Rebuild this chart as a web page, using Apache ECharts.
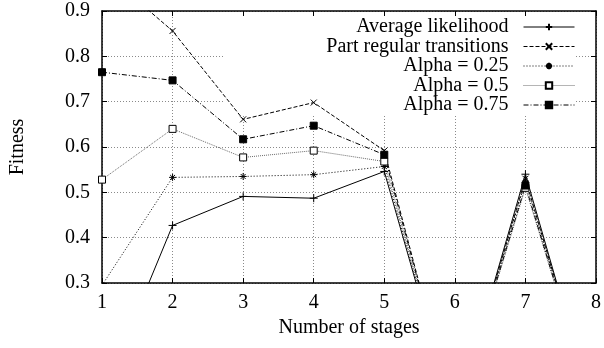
<!DOCTYPE html>
<html>
<head>
<meta charset="utf-8">
<script src="https://cdn.jsdelivr.net/npm/echarts@6/dist/echarts.min.js"></script>
<style>
  html, body { margin: 0; padding: 0; background: #fff; }
  #chart { width: 604px; height: 348px; }
</style>
</head>
<body>
<div id="chart"></div>
<script>
// Number of stages (x) and fitness values per method
const stages = [1, 2, 3, 4, 5, 6, 7, 8];
const xTicks = [1, 2, 3, 4, 5, 6, 7, 8];
const yTicks = [0.3, 0.4, 0.5, 0.6, 0.7, 0.8, 0.9];

const averageLikelihood   = [0.05, 0.427, 0.491, 0.487, 0.546, 0, 0.540, 0];
const partRegular         = [0.99, 0.856, 0.661, 0.698, 0.592, 0, 0.530, 0];
const alpha025            = [0.295, 0.533, 0.535, 0.539, 0.557, 0, 0.525, 0];
const alpha05             = [0.528, 0.640, 0.577, 0.592, 0.568, 0, 0.510, 0];
const alpha075            = [0.765, 0.747, 0.617, 0.647, 0.583, 0, 0.515, 0];

const seriesNames = [
  'Average likelihood',
  'Part regular transitions',
  'Alpha = 0.25',
  'Alpha = 0.5',
  'Alpha = 0.75'
];

const FONT = '"Liberation Serif", "DejaVu Serif", serif';

// gnuplot-like point glyphs
const PLUS = 'path://M0,5L10,5M5,0L5,10';
const CROSS = 'path://M0,0L10,10M10,0L0,10';
const STAR = 'path://M0,5L10,5M5,0L5,10M1.5,1.5L8.5,8.5M8.5,1.5L1.5,8.5';

function pairs(vals) {
  return stages.map((s, i) => [s, vals[i]]);
}

function lineSeries(name, vals, dash, color, symbol, symbolSize, fill) {
  return {
    name: name,
    type: 'line',
    data: pairs(vals),
    clip: true,
    symbol: symbol,
    symbolSize: symbolSize,
    showAllSymbol: true,
    lineStyle: { color: color, width: 1, type: dash },
    itemStyle: { color: fill, borderColor: '#000', borderWidth: 1 },
    emphasis: { disabled: true },
    animation: false
  };
}

const gridLine = { show: true, lineStyle: { color: '#8a8a8a', width: 1, type: [1, 2] } };
const frame = { show: true, onZero: false, lineStyle: { color: '#000', width: 1.5 } };
const tick = { show: true, inside: true, length: 5, lineStyle: { color: '#000', width: 1 } };

const option = {
  animation: false,
  backgroundColor: '#fff',
  grid: { left: 96, right: 7, top: 11, bottom: 65 },
  xAxis: [
    {
      type: 'value', min: 1, max: 8, interval: 1, position: 'bottom',
      name: 'Number of stages', nameLocation: 'middle', nameGap: 27,
      nameTextStyle: { fontFamily: FONT, fontSize: 20, color: '#000' },
      axisLine: frame, axisTick: tick,
      splitLine: gridLine,
      axisLabel: {
        fontFamily: FONT, fontSize: 20, color: '#000', margin: 10,
        formatter: v => xTicks.includes(v) ? String(v) : ''
      }
    },
    {
      type: 'value', min: 1, max: 8, interval: 1, position: 'top',
      axisLine: frame, axisTick: tick, splitLine: { show: false },
      axisLabel: { show: false }
    }
  ],
  yAxis: [
    {
      type: 'value', min: 0.3, max: 0.9, interval: 0.1, position: 'left',
      name: 'Fitness', nameLocation: 'middle', nameGap: 74,
      nameTextStyle: { fontFamily: FONT, fontSize: 20, color: '#000' },
      axisLine: frame, axisTick: tick,
      splitLine: gridLine,
      axisLabel: {
        fontFamily: FONT, fontSize: 20, color: '#000', margin: 12,
        formatter: v => {
          const t = yTicks.find(k => Math.abs(k - v) < 1e-9);
          return t === undefined ? '' : t.toFixed(1);
        }
      }
    },
    {
      type: 'value', min: 0.3, max: 0.9, interval: 0.1, position: 'right',
      axisLine: frame, axisTick: tick, splitLine: { show: false },
      axisLabel: { show: false }
    }
  ],
  // opaque key box hiding the grid behind the legend
  graphic: [{
    type: 'rect', z: 1, silent: true,
    shape: { x: 224, y: 17, width: 351, height: 98 },
    style: { fill: '#fff' }
  }],
  legend: {
    orient: 'vertical',
    align: 'right',
    right: 29,
    top: 17,
    padding: 0,
    itemWidth: 51,
    itemHeight: 8,
    itemGap: -0.5,
    selectedMode: false,
    lineStyle: { width: 1 },
    formatter: name => name + '  ',
    textStyle: { fontFamily: FONT, fontSize: 20, lineHeight: 18, color: '#000' },
    data: seriesNames
  },
  series: [
    lineSeries(seriesNames[0], averageLikelihood, 'solid', '#000', PLUS, 8, '#000'),
    lineSeries(seriesNames[1], partRegular, [4, 2], '#000', CROSS, 6, '#000'),
    lineSeries(seriesNames[2], alpha025, [1, 2], '#000', STAR, 7, '#000'),
    lineSeries(seriesNames[3], alpha05, [1, 1], '#6a6a6a', 'rect', 7, '#fff'),
    lineSeries(seriesNames[4], alpha075, [5, 2, 1, 2], '#000', 'rect', 7, '#000')
  ]
};

const chart = echarts.init(document.getElementById('chart'), null, { renderer: 'canvas' });
chart.setOption(option);
</script>
</body>
</html>
